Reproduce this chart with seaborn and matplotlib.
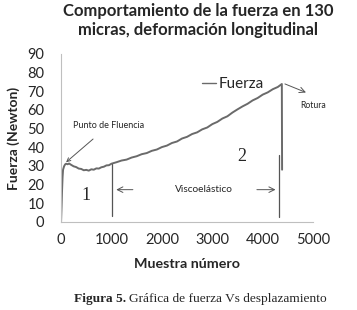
import matplotlib
matplotlib.use("Agg")
import matplotlib.pyplot as plt
import seaborn as sns
from pandas import DataFrame

# Data
samples = [0, 10, 20, 30, 40, 60, 80, 100, 130, 160, 200, 250, 300, 350, 400,
           450, 500, 550, 600, 650, 700, 750, 800, 850, 900, 950, 1000, 1100,
           1200, 1300, 1400, 1500, 1600, 1700, 1800, 1900, 2000, 2100, 2200,
           2300, 2400, 2500, 2600, 2700, 2800, 2900, 3000, 3100, 3200, 3300,
           3400, 3500, 3600, 3700, 3800, 3900, 4000, 4100, 4200, 4300, 4380,
           4385]
force = [0, 8, 17, 24, 28, 29.8, 30.8, 31.2, 30.9, 31.3, 30.6, 29.8, 29.4,
         28.6, 28.4, 27.7, 27.9, 27.5, 28.2, 28.0, 28.7, 28.6, 29.3, 29.6, 30.3,
         30.4, 31.2, 32.0, 32.9, 33.4, 34.5, 35.2, 36.3, 36.9, 38.1, 38.8, 40.1,
         40.9, 42.3, 43.1, 44.7, 45.6, 47.1, 48.0, 49.6, 50.6, 52.4, 53.6, 55.4,
         56.6, 58.6, 60.3, 61.9, 63.3, 65.1, 66.4, 68.2, 69.4, 71.1, 72.3, 73.9,
         28.0]

x_ticks = [0, 1000, 2000, 3000, 4000, 5000]
y_ticks = [0, 10, 20, 30, 40, 50, 60, 70, 80, 90]

df = DataFrame({"Muestra": samples, "Fuerza": force})

sns.set_style("white")
plt.rcParams["font.family"] = ["Lato", "DejaVu Sans"]

fig = plt.figure(figsize=(3.57, 3.10), dpi=100)
ax = fig.add_axes([0.171, 0.284, 0.706, 0.542])

line_col = "#6a6a6a"
ann_col = "#555555"

sns.lineplot(data=df, x="Muestra", y="Fuerza", ax=ax, color=line_col,
             linewidth=1.4, sort=False, estimator=None, label="Fuerza")

ax.set_xlim(0, 5000)
ax.set_ylim(0, 90)
ax.set_xticks(x_ticks)
ax.set_yticks(y_ticks)
ax.tick_params(axis="x", length=0, labelsize=10.5, pad=8)
ax.tick_params(axis="y", length=0, labelsize=10.5, pad=12)
for s in ["top", "right"]:
    ax.spines[s].set_visible(False)
for s in ["left", "bottom"]:
    ax.spines[s].set_color("#bfbfbf")
    ax.spines[s].set_linewidth(0.8)

ax.set_xlabel("Muestra número", fontsize=10.3, fontweight="bold", labelpad=8)
ax.set_ylabel("Fuerza (Newton)", fontsize=10, fontweight="bold", labelpad=5)

fig.suptitle("Comportamiento de la fuerza en 130\nmicras, deformación longitudinal",
             x=0.555, y=0.99, fontsize=12, fontweight="bold", linespacing=1.25)

leg = ax.legend(loc="center left", bbox_to_anchor=(0.56, 0.82), frameon=False,
                handlelength=0.9, handletextpad=0.15, borderpad=0,
                borderaxespad=0, fontsize=11)
for h in leg.get_lines():
    h.set_linewidth(1.0)

# Annotations
arrow = dict(arrowstyle="->", color=ann_col, lw=0.7)
ax.annotate("Punto de Fluencia", xy=(100, 32), xytext=(940, 51.5),
            fontsize=6.5, ha="center", va="center",
            arrowprops=dict(arrowstyle="->", color=ann_col, lw=0.7,
                            shrinkA=6, shrinkB=0))
ax.text(500, 14, "1", fontsize=13, family="Liberation Serif",
        ha="center", va="center")
ax.text(3580, 35, "2", fontsize=13, family="Liberation Serif",
        ha="center", va="center")
ax.plot([1020, 1020], [3.2, 31.2], color=ann_col, lw=0.9)
ax.plot([4320, 4320], [2.7, 35.8], color=ann_col, lw=0.9)
ax.annotate("", xy=(1040, 17.3), xytext=(1480, 17.3), arrowprops=arrow)
ax.annotate("", xy=(4310, 17.3), xytext=(3830, 17.3), arrowprops=arrow)
ax.text(2840, 17.3, "Viscoelástico", fontsize=7.3, ha="center", va="center")
ax.annotate("", xy=(4910, 68.8), xytext=(4390, 74.5), arrowprops=arrow)
ax.text(5000, 62.6, "Rotura", fontsize=6.2, ha="center", va="center")

# Caption below the chart
cap_bold = fig.text(0.207, 0.035, "Figura 5.", fontsize=9.6,
                    family="Liberation Serif", fontweight="bold",
                    ha="left", va="center")
fig.canvas.draw()
bb = cap_bold.get_window_extent()
fig.text(bb.x1 / fig.bbox.width + 0.008, 0.035,
         "Gráfica de fuerza Vs desplazamiento", fontsize=9.6,
         family="Liberation Serif", ha="left", va="center")

fig.savefig("out.png", dpi=100)
